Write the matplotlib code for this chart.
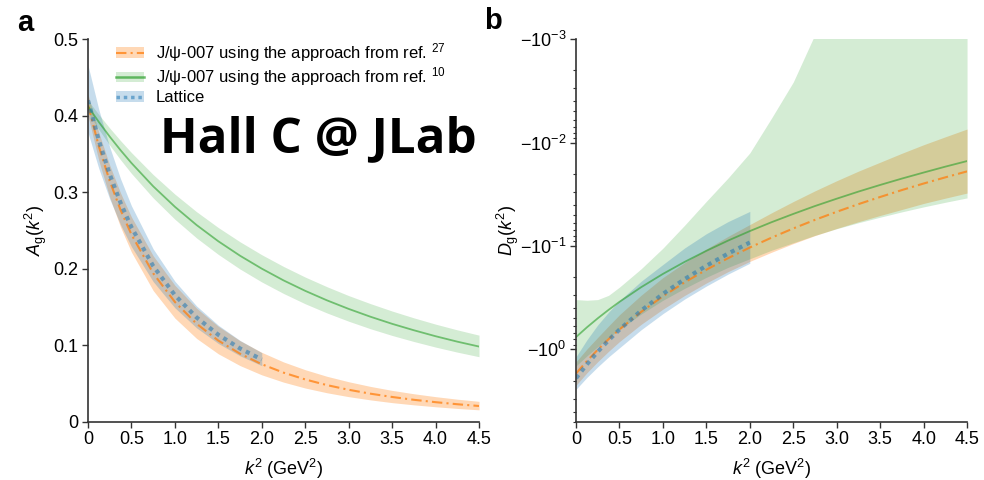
import matplotlib
matplotlib.use('Agg')
import matplotlib.pyplot as plt
from matplotlib.patches import Patch
from matplotlib.lines import Line2D
from matplotlib.ticker import LogLocator, NullFormatter

plt.rcParams['font.family'] = ['Liberation Sans', 'DejaVu Sans']
plt.rcParams['mathtext.fontset'] = 'custom'
plt.rcParams['mathtext.rm'] = 'Liberation Sans'
plt.rcParams['mathtext.it'] = 'Liberation Sans:italic'
plt.rcParams['mathtext.bf'] = 'Liberation Sans:bold'

# k^2 grid (GeV^2)
k = [0, 0.125, 0.25, 0.375, 0.5, 0.75, 1.0, 1.25, 1.5, 1.75, 2.0,
     2.25, 2.5, 2.75, 3.0, 3.25, 3.5, 3.75, 4.0, 4.25, 4.5]
k_lat = k[:11]

# panel a: A_g(k^2)
a_ref27 = [0.414, 0.3598, 0.3146, 0.2767, 0.2447, 0.1940, 0.1565, 0.1280, 0.1060, 0.0888, 0.0751,
           0.0641, 0.0552, 0.0478, 0.0417, 0.0366, 0.0323, 0.0286, 0.0255, 0.0228, 0.0205]
a_ref27_lo = [0.400, 0.3413, 0.2935, 0.2543, 0.2217, 0.1715, 0.1354, 0.1088, 0.0887, 0.0733, 0.0612,
              0.0517, 0.0440, 0.0378, 0.0327, 0.0285, 0.0249, 0.0220, 0.0195, 0.0173, 0.0155]
a_ref27_hi = [0.428, 0.3779, 0.3353, 0.2989, 0.2676, 0.2169, 0.1783, 0.1483, 0.1247, 0.1058, 0.0906,
              0.0781, 0.0679, 0.0593, 0.0522, 0.0461, 0.0409, 0.0365, 0.0327, 0.0294, 0.0266]

a_ref10 = [0.412, 0.3917, 0.3726, 0.3548, 0.3381, 0.3077, 0.2809, 0.2570, 0.2358, 0.2169, 0.2000,
           0.1847, 0.1710, 0.1586, 0.1474, 0.1372, 0.1279, 0.1195, 0.1117, 0.1046, 0.0982]
a_ref10_lo = [0.404, 0.3819, 0.3614, 0.3423, 0.3245, 0.2925, 0.2646, 0.2401, 0.2186, 0.1995, 0.1826,
              0.1676, 0.1541, 0.1421, 0.1313, 0.1215, 0.1127, 0.1048, 0.0975, 0.0909, 0.0849]
a_ref10_hi = [0.420, 0.4014, 0.3838, 0.3673, 0.3517, 0.3230, 0.2974, 0.2744, 0.2537, 0.2351, 0.2182,
              0.2029, 0.1890, 0.1764, 0.1648, 0.1543, 0.1446, 0.1357, 0.1275, 0.1200, 0.1131]

a_lat = [0.420, 0.3675, 0.3234, 0.2860, 0.2542, 0.2035, 0.1654, 0.1362, 0.1136, 0.0957, 0.0813]
a_lat_lo = [0.378, 0.3308, 0.2911, 0.2574, 0.2288, 0.1832, 0.1489, 0.1226, 0.1022, 0.0861, 0.0732]
a_lat_hi = [0.466, 0.4079, 0.3590, 0.3175, 0.2822, 0.2259, 0.1836, 0.1512, 0.1261, 0.1062, 0.0902]

# panel b: |D_g(k^2)| (plotted on a reversed log axis, labelled as negative)
d_ref27 = [1.710, 1.2965, 1.0062, 0.7965, 0.6413, 0.4335, 0.3066, 0.2248, 0.1697, 0.1312, 0.1035,
           0.0831, 0.0677, 0.0559, 0.0467, 0.0394, 0.0336, 0.0288, 0.0249, 0.0217, 0.0190]
d_ref27_lo = [1.317, 0.992, 0.765, 0.593, 0.462, 0.299, 0.202, 0.145, 0.107, 0.0807, 0.0621,
              0.0478, 0.0372, 0.0293, 0.0234, 0.0189, 0.0155, 0.0127, 0.0105, 0.0088, 0.0074]
d_ref27_hi = [2.223, 1.685, 1.313, 1.043, 0.840, 0.572, 0.408, 0.301, 0.228, 0.177, 0.141,
              0.115, 0.0948, 0.0794, 0.0677, 0.0583, 0.0507, 0.0444, 0.0388, 0.0345, 0.0308]

d_ref10 = [0.760, 0.6123, 0.5005, 0.4143, 0.3468, 0.2502, 0.1863, 0.1425, 0.1114, 0.0887, 0.0718,
           0.0589, 0.0490, 0.0411, 0.0349, 0.0298, 0.0257, 0.0223, 0.0195, 0.0171, 0.0151]
d_ref10_lo = [0.33, 0.335, 0.33, 0.30, 0.25, 0.166, 0.105, 0.063, 0.037, 0.022, 0.0126,
              0.0058, 0.0026, 0.0009, 0.0001, 0.0001, 0.0001, 0.0001, 0.0001, 0.0001, 0.0001]
d_ref10_hi = [1.444, 1.157, 0.941, 0.771, 0.642, 0.455, 0.335, 0.257, 0.201, 0.161, 0.133,
              0.110, 0.0931, 0.0789, 0.0681, 0.0596, 0.0527, 0.0468, 0.0419, 0.0378, 0.0343]

d_lat = [1.900, 1.3941, 1.0531, 0.8148, 0.6433, 0.4213, 0.2908, 0.2090, 0.1553, 0.1185, 0.0925]
d_lat_lo = [1.178, 0.809, 0.579, 0.436, 0.338, 0.219, 0.151, 0.1045, 0.0761, 0.0581, 0.0463]
d_lat_hi = [2.432, 1.868, 1.474, 1.181, 0.965, 0.645, 0.451, 0.326, 0.244, 0.187, 0.147]

x_ticks = [0, 0.5, 1.0, 1.5, 2.0, 2.5, 3.0, 3.5, 4.0, 4.5]
x_ticklabels = ['0', '0.5', '1.0', '1.5', '2.0', '2.5', '3.0', '3.5', '4.0', '4.5']
a_ticks = [0, 0.1, 0.2, 0.3, 0.4, 0.5]
a_ticklabels = ['0', '0.1', '0.2', '0.3', '0.4', '0.5']
d_ticks = [1e-3, 1e-2, 1e-1, 1e0]
d_ticklabels = [r'$-10^{-3}$', r'$-10^{-2}$', r'$-10^{-1}$', r'$-10^{0}$']

labels = ['J/\u03c8-007 using the approach from ref. $^{27}$',
          'J/\u03c8-007 using the approach from ref. $^{10}$',
          'Lattice']

c_or = '#ff7f0e'
c_gr = '#2ca02c'
c_bl = '#1f77b4'
dashdot = (0, (5, 2, 1, 2))
dots = (0, (1, 1.1))
fs = 13

fig = plt.figure(figsize=(9.84, 4.8), dpi=100)
ax1 = fig.add_axes([0.0894, 0.1215, 0.3974, 0.797])
ax2 = fig.add_axes([0.5854, 0.1215, 0.3974, 0.797])


def style(ax):
    for s in ['top', 'right']:
        ax.spines[s].set_visible(False)
    for s in ['left', 'bottom']:
        ax.spines[s].set_color('#333333')
        ax.spines[s].set_linewidth(1.2)
    ax.tick_params(which='major', length=4, width=1, color='#333333', labelsize=fs, pad=3)
    ax.tick_params(which='minor', length=2, width=0.8, color='#333333')
    ax.set_xlim(0, 4.5)
    ax.set_xticks(x_ticks)
    ax.set_xticklabels(x_ticklabels)
    ax.set_xlabel(r'$k^2$ (GeV$^2$)', fontsize=fs)
    ax.xaxis.set_label_coords(0.5, -0.092)


# panel a
ax1.fill_between(k, a_ref27_lo, a_ref27_hi, color=c_or, alpha=0.3, lw=0)
ax1.fill_between(k, a_ref10_lo, a_ref10_hi, color=c_gr, alpha=0.2, lw=0)
ax1.fill_between(k_lat, a_lat_lo, a_lat_hi, color=c_bl, alpha=0.25, lw=0)
ax1.plot(k, a_ref27, color=c_or, ls=dashdot, lw=1.5, alpha=0.75)
ax1.plot(k, a_ref10, color=c_gr, lw=1.3, alpha=0.6)
ax1.plot(k_lat, a_lat, color=c_bl, ls=dots, lw=3, alpha=0.55)
style(ax1)
ax1.set_ylim(0, 0.5)
ax1.set_yticks(a_ticks)
ax1.set_yticklabels(a_ticklabels)
ax1.set_ylabel(r'$A_{\mathrm{g}}(k^2)$', fontsize=fs)
ax1.yaxis.set_label_coords(-0.099, 0.5)

handles = [
    (Patch(facecolor=c_or, alpha=0.3, lw=0), Line2D([], [], color=c_or, ls=dashdot, lw=1.5, alpha=0.75)),
    (Patch(facecolor=c_gr, alpha=0.2, lw=0), Line2D([], [], color=c_gr, lw=1.8, alpha=0.7)),
    (Patch(facecolor=c_bl, alpha=0.25, lw=0), Line2D([], [], color=c_bl, ls=dots, lw=2.5, alpha=0.55)),
]
ax1.legend(handles, labels, loc='upper left', bbox_to_anchor=(0.072, 0.995), frameon=False,
           fontsize=12, handlelength=1.7, handleheight=0.6, handletextpad=0.7,
           labelspacing=0.1, borderpad=0, borderaxespad=0)

# panel b
ax2.fill_between(k, d_ref27_lo, d_ref27_hi, color=c_or, alpha=0.3, lw=0)
ax2.fill_between(k, d_ref10_lo, d_ref10_hi, color=c_gr, alpha=0.2, lw=0)
ax2.fill_between(k_lat, d_lat_lo, d_lat_hi, color=c_bl, alpha=0.25, lw=0)
ax2.plot(k, d_ref27, color=c_or, ls=dashdot, lw=1.5, alpha=0.75)
ax2.plot(k, d_ref10, color=c_gr, lw=1.3, alpha=0.6)
ax2.plot(k_lat, d_lat, color=c_bl, ls=dots, lw=3, alpha=0.55)
ax2.set_yscale('log')
style(ax2)
ax2.set_ylim(5, 1e-3)
ax2.set_yticks(d_ticks)
ax2.set_yticklabels(d_ticklabels)
ax2.yaxis.set_minor_locator(LogLocator(base=10, subs=range(2, 10)))
ax2.yaxis.set_minor_formatter(NullFormatter())
ax2.set_ylabel(r'$D_{\mathrm{g}}(k^2)$', fontsize=fs)
ax2.yaxis.set_label_coords(-0.141, 0.5)

fig.text(17 / 984, 1 - 31 / 480, 'a', fontsize=21, fontweight='bold')
fig.text(484 / 984, 1 - 29 / 480, 'b', fontsize=21, fontweight='bold')
fig.text(160 / 984, 1 - 152 / 480, 'Hall C @ JLab', fontsize=35.5, fontweight='bold',
         family='Open Sans', va='baseline')

fig.savefig('out.png', dpi=100)
